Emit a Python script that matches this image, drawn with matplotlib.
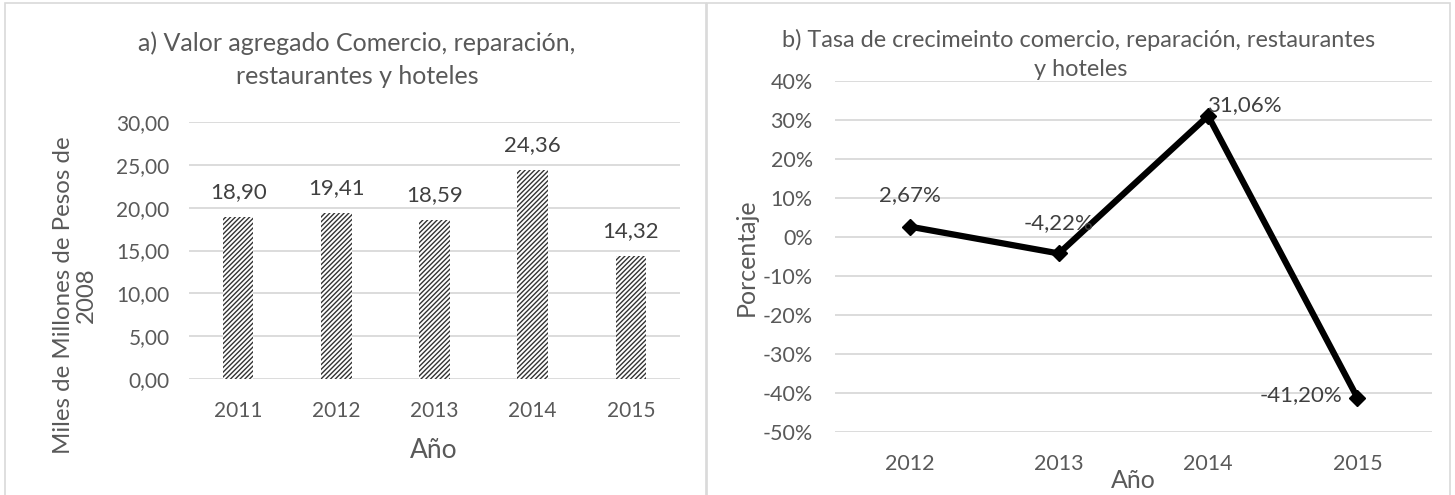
import matplotlib
matplotlib.use("Agg")
import matplotlib.pyplot as plt
from matplotlib.patches import Rectangle

plt.rcParams['font.family'] = ['Lato', 'DejaVu Sans']

# datos
anios_a = ['2011', '2012', '2013', '2014', '2015']
valor_agregado = [18.90, 19.41, 18.59, 24.36, 14.32]

anios_b = ['2012', '2013', '2014', '2015']
tasa_crec = [2.67, -4.22, 31.06, -41.20]

ticks_a = [0, 5, 10, 15, 20, 25, 30]
ticks_b = [40, 30, 20, 10, 0, -10, -20, -30, -40, -50]

GRIS_TXT = '#595959'
GRIS_GRID = '#d9d9d9'
W, H = 1455, 495


def coma(v, dec=2):
    return f"{v:.{dec}f}".replace('.', ',')


fig = plt.figure(figsize=(W / 100, H / 100), dpi=100)

# marcos de los dos graficos
for x0, x1 in [(5, 706), (707, 1450)]:
    fig.patches.append(Rectangle((x0 / W, -0.05), (x1 - x0) / W, (H - 3) / H + 0.05,
                                 transform=fig.transFigure, fill=False,
                                 edgecolor=GRIS_GRID, linewidth=1.2))


def estilo(ax):
    for s in ax.spines.values():
        s.set_visible(False)
    ax.tick_params(length=0, colors=GRIS_TXT, labelsize=15)
    ax.yaxis.grid(True, color=GRIS_GRID, linewidth=1.3)
    ax.set_axisbelow(True)


# ---- a) barras
ax1 = fig.add_axes([189 / W, (H - 379) / H, (680 - 189) / W, (379 - 122) / H])
estilo(ax1)
x = range(len(anios_a))
ax1.bar(x, valor_agregado, width=0.31, color='white', edgecolor='#333333',
        linewidth=0, hatch='///////')
ax1.set_xlim(-0.5, len(anios_a) - 0.5)
ax1.set_ylim(0, 30)
ax1.set_yticks(ticks_a)
ax1.set_yticklabels([coma(t) for t in ticks_a])
ax1.set_xticks(list(x))
ax1.set_xticklabels(anios_a)
ax1.tick_params(axis='x', pad=16)
ax1.tick_params(axis='y', pad=14)
for xi, v in zip(x, valor_agregado):
    ax1.annotate(coma(v), (xi, v), xytext=(0, 18), textcoords='offset points',
                 ha='center', va='center', fontsize=16, color='#404040')

fig.text(357 / W, 1 - 43 / H, 'a) Valor agregado Comercio, reparación,',
         ha='center', va='center', fontsize=18, color=GRIS_TXT)
fig.text(357 / W, 1 - 77 / H, 'restaurantes y hoteles',
         ha='center', va='center', fontsize=18, color=GRIS_TXT)
fig.text(75 / W, 1 - 295 / H, 'Miles de Millones de Pesos de\n2008',
         rotation=90, ha='center', va='center', multialignment='center',
         fontsize=17.3, color=GRIS_TXT, linespacing=1.1)
fig.text(434 / W, 1 - 450 / H, 'Año', ha='center', va='center',
         fontsize=19, color=GRIS_TXT)

# ---- b) linea
ax2 = fig.add_axes([835 / W, (H - 432) / H, (1432 - 835) / W, (432 - 81) / H])
estilo(ax2)
xb = range(len(anios_b))
ax2.plot(xb, tasa_crec, color='black', linewidth=4.5, marker='D',
         markersize=8.5, solid_joinstyle='miter')
ax2.set_xlim(-0.5, len(anios_b) - 0.5)
ax2.set_ylim(-50, 40)
ax2.set_yticks(ticks_b)
ax2.set_yticklabels([f"{t}%" for t in ticks_b])
ax2.set_xticks(list(xb))
ax2.set_xticklabels(anios_b)
ax2.tick_params(labelsize=15.5)
ax2.tick_params(axis='x', pad=16)
ax2.tick_params(axis='y', pad=16)

pos = [((0, 23), 'center'), ((0, 22), 'center'), ((-1, 8), 'left'), ((-11, 2), 'right')]
for xi, v, (off, ha) in zip(xb, tasa_crec, pos):
    ax2.annotate(coma(v) + '%', (xi, v), xytext=off, textcoords='offset points',
                 ha=ha, va='center', fontsize=16, color='#404040')

fig.text(1079 / W, 1 - 40 / H,
         'b) Tasa de crecimeinto comercio, reparación, restaurantes',
         ha='center', va='center', fontsize=16.9, color=GRIS_TXT)
fig.text(1081 / W, 1 - 69 / H, 'y hoteles',
         ha='center', va='center', fontsize=16.9, color=GRIS_TXT)
fig.text(746 / W, 1 - 257 / H, 'Porcentaje', rotation=90, ha='center',
         va='center', fontsize=18, color=GRIS_TXT)
fig.text(1133 / W, 1 - 480 / H, 'Año', ha='center', va='center',
         fontsize=18, color=GRIS_TXT)

fig.savefig('out.png', dpi=100)
